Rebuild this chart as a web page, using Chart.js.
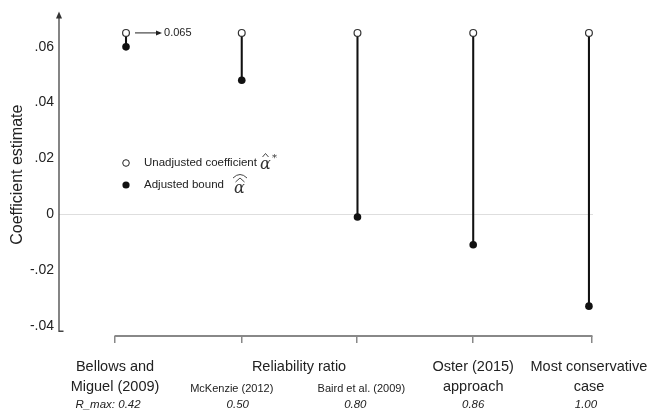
<!DOCTYPE html>
<html lang="en">
<head>
    <meta charset="UTF-8">
    <title>Coefficient estimate</title>
    <script src="https://cdn.jsdelivr.net/npm/chart.js@4.4.1/dist/chart.umd.min.js"></script>
    <style>
        body { margin: 0; background: #fff; }
        #wrap { width: 649px; height: 414px; }
    </style>
</head>
<body>
<div id="wrap"><canvas id="myChart"></canvas></div>
<script>
    // values
    const categories  = ['Bellows and Miguel (2009)', 'McKenzie (2012)', 'Baird et al. (2009)', 'Oster (2015) approach', 'Most conservative case'];
    const xPositions  = [1, 2, 3, 4, 5];
    const unadjusted  = [0.065, 0.065, 0.065, 0.065, 0.065];
    const adjusted    = [0.060, 0.048, -0.001, -0.011, -0.033];
    const rMaxLabels  = ['R_max: 0.42', '0.50', '0.80', '0.86', '1.00'];
    const mainLabels  = [['Bellows and', 'Miguel (2009)'], null, null, ['Oster (2015)', 'approach'], ['Most conservative', 'case']];
    const subLabels   = [null, 'McKenzie (2012)', 'Baird et al. (2009)', null, null];
    const groupLabel  = 'Reliability ratio';
    const yTicks      = [-0.04, -0.02, 0, 0.02, 0.04, 0.06];
    const xAxisTicks  = [0.905, 2, 2.99, 4, 5.026];

    const FONT = "'Liberation Sans', Arial, Helvetica, sans-serif";
    const INK = '#222';

    // small horizontal nudges (px) for the text under the axis
    const mainShift = [0, 0, 0, 0, -3];
    const subShift  = [0, -10, 5, 0, 0];
    const rShift    = [-7, -4, -1, 0, -6];

    function fmtTick(v) {
        if (Math.abs(v) < 1e-9) return '0';
        let s = v.toFixed(2).replace('0.', '.');
        return s;
    }

    const decor = {
        id: 'decor',
        afterDraw(chart) {
            const ctx = chart.ctx;
            const xs = chart.scales.x, ys = chart.scales.y;
            const area = chart.chartArea;
            ctx.save();

            // y axis with arrow
            const ax = area.left;
            const yBot = ys.getPixelForValue(-0.042);
            ctx.strokeStyle = '#444';
            ctx.lineWidth = 1.3;
            ctx.beginPath();
            ctx.moveTo(ax + 4.5, yBot);
            ctx.lineTo(ax, yBot);
            ctx.lineTo(ax, area.top + 3);
            ctx.stroke();
            ctx.fillStyle = '#333';
            ctx.beginPath();
            ctx.moveTo(ax, area.top - 2);
            ctx.lineTo(ax - 3, area.top + 5);
            ctx.lineTo(ax + 3, area.top + 5);
            ctx.closePath();
            ctx.fill();

            // x axis line between the outer ticks
            ctx.strokeStyle = '#888';
            ctx.lineWidth = 2;
            ctx.beginPath();
            ctx.moveTo(xs.getPixelForValue(xAxisTicks[0]) - 0.5, area.bottom);
            ctx.lineTo(xs.getPixelForValue(xAxisTicks[xAxisTicks.length - 1]) + 0.5, area.bottom);
            ctx.stroke();

            // annotation arrow -> 0.065
            const px = xs.getPixelForValue(xPositions[0]);
            const py = ys.getPixelForValue(unadjusted[0]);
            ctx.strokeStyle = '#222';
            ctx.lineWidth = 1;
            ctx.beginPath();
            ctx.moveTo(px + 9, py);
            ctx.lineTo(px + 34, py);
            ctx.stroke();
            ctx.fillStyle = '#222';
            ctx.beginPath();
            ctx.moveTo(px + 36, py);
            ctx.lineTo(px + 30, py - 2.5);
            ctx.lineTo(px + 30, py + 2.5);
            ctx.closePath();
            ctx.fill();
            ctx.font = '11px ' + FONT;
            ctx.textAlign = 'left';
            ctx.textBaseline = 'middle';
            ctx.fillText('0.065', px + 38, py + 0.5);

            // legend
            const lx = px, l1 = 163, l2 = 185;
            ctx.lineWidth = 1;
            ctx.strokeStyle = '#222';
            ctx.fillStyle = '#fff';
            ctx.beginPath(); ctx.arc(lx, l1, 3.3, 0, Math.PI * 2); ctx.fill(); ctx.stroke();
            ctx.fillStyle = '#111';
            ctx.beginPath(); ctx.arc(lx, l2, 3.6, 0, Math.PI * 2); ctx.fill();
            ctx.fillStyle = INK;
            ctx.font = '11.5px ' + FONT;
            ctx.fillText('Unadjusted coefficient', lx + 18, l1);
            ctx.fillText('Adjusted bound', lx + 18, l2);

            // alpha hat star
            ctx.font = 'italic 16px "DejaVu Serif", "Liberation Serif", serif';
            ctx.fillStyle = '#333';
            const a1 = lx + 134;
            ctx.fillText('α', a1, l1 + 2);
            ctx.strokeStyle = '#333';
            ctx.lineWidth = 0.9;
            ctx.beginPath();
            ctx.moveTo(a1 + 2.5, l1 - 6); ctx.lineTo(a1 + 5.5, l1 - 9.5); ctx.lineTo(a1 + 8.5, l1 - 6);
            ctx.stroke();
            ctx.font = '10px "DejaVu Serif", serif';
            ctx.fillText('*', a1 + 12, l1 - 5);

            // alpha double hat
            const a2 = lx + 108;
            ctx.font = 'italic 16px "DejaVu Serif", "Liberation Serif", serif';
            ctx.fillText('α', a2, l2 + 4);
            ctx.beginPath();
            ctx.moveTo(a2 + 1.5, l2 - 3); ctx.lineTo(a2 + 6, l2 - 7); ctx.lineTo(a2 + 10.5, l2 - 3);
            ctx.stroke();
            ctx.beginPath();
            ctx.moveTo(a2 - 1, l2 - 7); ctx.quadraticCurveTo(a2 + 6, l2 - 14, a2 + 13, l2 - 7);
            ctx.stroke();

            // bottom labels
            ctx.fillStyle = INK;
            ctx.textAlign = 'center';
            const row1 = 367, row2 = 387, row3 = 405;
            for (let i = 0; i < categories.length; i++) {
                const cx = xs.getPixelForValue(xAxisTicks[i]);
                if (mainLabels[i]) {
                    ctx.font = '14.5px ' + FONT;
                    ctx.fillText(mainLabels[i][0], cx + mainShift[i], row1);
                    ctx.fillText(mainLabels[i][1], cx + mainShift[i], row2);
                }
                if (subLabels[i]) {
                    ctx.font = '11px ' + FONT;
                    ctx.fillText(subLabels[i], cx + subShift[i], row2 + 1.5);
                }
                ctx.font = 'italic 11.5px ' + FONT;
                ctx.fillText(rMaxLabels[i], cx + rShift[i], row3);
            }
            ctx.font = '14.5px ' + FONT;
            const gx = (xs.getPixelForValue(xAxisTicks[1]) + xs.getPixelForValue(xAxisTicks[2])) / 2;
            ctx.fillText(groupLabel, gx, row1);

            ctx.restore();
        }
    };

    const stems = xPositions.map((x, i) => ({ x: x, y: [adjusted[i], unadjusted[i]] }));
    const openPts = xPositions.map((x, i) => ({ x: x, y: unadjusted[i] }));
    const filledPts = xPositions.map((x, i) => ({ x: x, y: adjusted[i] }));

    var ctx = document.getElementById('myChart').getContext('2d');
    var myChart = new Chart(ctx, {
        type: 'scatter',
        data: {
            datasets: [
                {
                    type: 'bar',
                    label: 'stem',
                    data: stems,
                    backgroundColor: '#111',
                    borderWidth: 0,
                    barThickness: 1.4,
                    order: 3
                },
                {
                    label: 'Adjusted bound',
                    data: filledPts,
                    pointRadius: 3.8,
                    pointBackgroundColor: '#111',
                    pointBorderColor: '#111',
                    pointBorderWidth: 0,
                    showLine: false,
                    clip: false,
                    order: 2
                },
                {
                    label: 'Unadjusted coefficient',
                    data: openPts,
                    pointRadius: 3.4,
                    pointBackgroundColor: '#fff',
                    pointBorderColor: '#333',
                    pointBorderWidth: 1.2,
                    showLine: false,
                    clip: false,
                    order: 1
                }
            ]
        },
        options: {
            responsive: true,
            maintainAspectRatio: false,
            animation: false,
            layout: { padding: { top: 11, right: 56, left: 0, bottom: 0 } },
            plugins: {
                legend: { display: false },
                tooltip: { enabled: false }
            },
            scales: {
                x: {
                    type: 'linear',
                    min: 0.421,
                    max: 5.035,
                    offset: false,
                    afterBuildTicks: (scale) => { scale.ticks = xAxisTicks.map(v => ({ value: v })); },
                    afterFit: (scale) => { scale.height = 78; },
                    ticks: { display: false },
                    border: { display: false },
                    grid: {
                        offset: false,
                        drawOnChartArea: false,
                        drawTicks: true,
                        tickLength: 7,
                        color: '#888',
                        lineWidth: 1.5
                    }
                },
                y: {
                    min: -0.0437,
                    max: 0.072,
                    afterBuildTicks: (scale) => { scale.ticks = yTicks.map(v => ({ value: v })); },
                    afterFit: (scale) => { scale.width = 59; },
                    border: { display: false },
                    grid: {
                        drawTicks: false,
                        color: (c) => (c.tick && Math.abs(c.tick.value) < 1e-9) ? '#dedede' : 'rgba(0,0,0,0)',
                        lineWidth: 1
                    },
                    ticks: {
                        padding: 5,
                        color: INK,
                        font: { family: FONT, size: 14 },
                        callback: (v) => fmtTick(v)
                    },
                    title: {
                        display: true,
                        text: 'Coefficient estimate',
                        color: INK,
                        font: { family: FONT, size: 16 },
                        padding: { top: 8, bottom: 0 }
                    }
                }
            }
        },
        plugins: [decor]
    });
</script>
</body>
</html>
